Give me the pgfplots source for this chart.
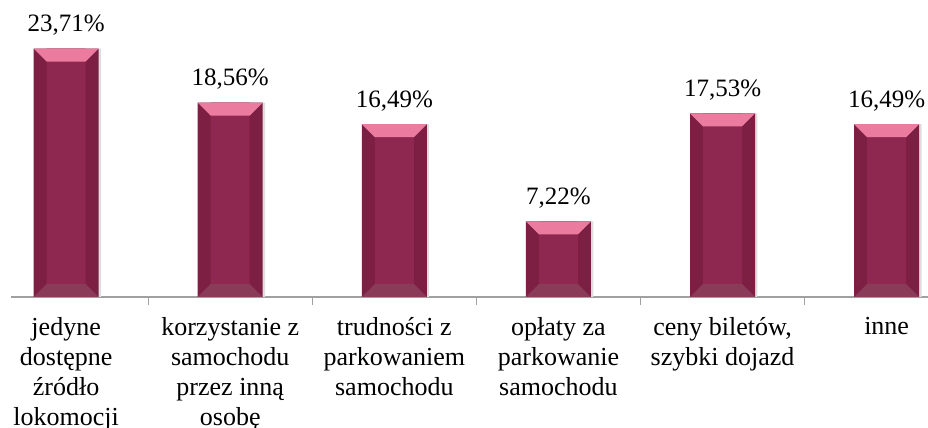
\documentclass[border=0pt]{standalone}
\usepackage{pgfplots}
\pgfplotsset{compat=1.18}
\usepackage{pgfplotstable}
\usepackage{fontspec}
\setmainfont{Liberation Serif}

\definecolor{barmid}{HTML}{8F2850}
\definecolor{barside}{HTML}{7D1F42}
\definecolor{bartop}{HTML}{EB7C9F}
\definecolor{barbot}{HTML}{8A3B58}
\definecolor{axisgray}{HTML}{A0A0A0}

% bevels of the bars, drawn as marks at the top and the foot of each bar
\pgfdeclareplotmark{topbevel}{%
  \pgfpathmoveto{\pgfqpoint{-16.25pt}{0pt}}%
  \pgfpathlineto{\pgfqpoint{16.25pt}{0pt}}%
  \pgfpathlineto{\pgfqpoint{9.75pt}{-6.5pt}}%
  \pgfpathlineto{\pgfqpoint{-9.75pt}{-6.5pt}}%
  \pgfpathclose\pgfusepath{fill}}
\pgfdeclareplotmark{botbevel}{%
  \pgfpathmoveto{\pgfqpoint{-16.25pt}{0pt}}%
  \pgfpathlineto{\pgfqpoint{16.25pt}{0pt}}%
  \pgfpathlineto{\pgfqpoint{9.75pt}{6.5pt}}%
  \pgfpathlineto{\pgfqpoint{-9.75pt}{6.5pt}}%
  \pgfpathclose\pgfusepath{fill}}

\pgfplotstableread{
x y base label
0 23.71 0 {23,71\%}
1 18.56 0 {18,56\%}
2 16.49 0 {16,49\%}
3 7.22  0 {7,22\%}
4 17.53 0 {17,53\%}
5 16.49 0 {16,49\%}
}\data

\begin{document}
\begin{tikzpicture}
\begin{axis}[
  scale only axis,
  width=458.5pt, height=148.5pt,
  xmin=-0.336, xmax=5.252,
  ymin=0, ymax=28.35,
  axis x line*=bottom,
  axis y line=none,
  x axis line style={axisgray, line width=0.6pt},
  xtick={0,...,5},
  xticklabels={
    {jedyne\\dostępne\\źródło\\lokomocji},
    {korzystanie z\\samochodu\\przez inną\\osobę},
    {trudności z\\parkowaniem\\samochodu},
    {opłaty za\\parkowanie\\samochodu},
    {ceny biletów,\\szybki dojazd},
    {inne}},
  xticklabel style={align=center, anchor=north, inner sep=0pt, yshift=-10pt,
    font=\fontsize{13}{15}\selectfont},
  major tick length=0pt,
  extra x ticks={0.5,1.5,2.5,3.5,4.5},
  extra x tick labels={},
  extra x tick style={major tick length=4pt, tick align=outside,
    tick style={axisgray, line width=0.6pt}},
  ytick=\empty,
  clip=false,
]
% shadow
\addplot[ybar, bar width=32.5pt, bar shift=1.2pt, draw=none, fill=black!13]
  table[x=x, y=y] {\data};
% side faces
\addplot[ybar, bar width=32.5pt, bar shift=0pt, draw=none, fill=barside,
  nodes near coords, point meta=explicit symbolic,
  every node near coord/.append style={anchor=base, inner sep=0pt, yshift=8.5pt,
    text=black, font=\fontsize{12.5}{15}\selectfont}]
  table[x=x, y=y, meta=label] {\data};
% front face
\addplot[ybar, bar width=19.5pt, bar shift=0pt, draw=none, fill=barmid]
  table[x=x, y=y] {\data};
% top and bottom bevels
\addplot[only marks, mark=topbevel, mark options={fill=bartop, draw=none}]
  table[x=x, y=y] {\data};
\addplot[only marks, mark=botbevel, mark options={fill=barbot, draw=none}]
  table[x=x, y=base] {\data};
\end{axis}
\pgfresetboundingbox
\useasboundingbox (-5.5pt,-65.5pt) rectangle (458.5pt,148.5pt);
\end{tikzpicture}
\end{document}
